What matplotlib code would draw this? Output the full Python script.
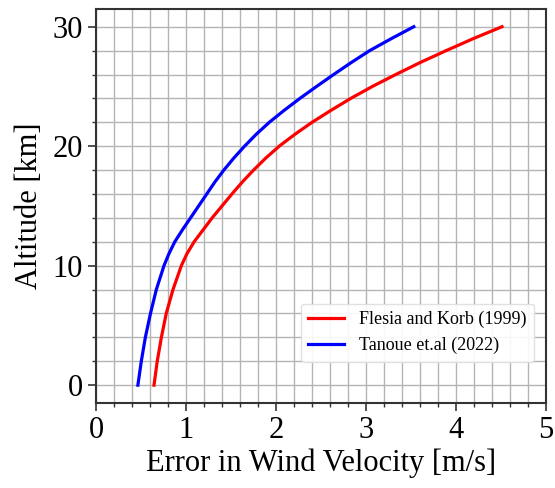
import numpy as np
import matplotlib.pyplot as plt
from matplotlib.ticker import MultipleLocator

plt.rcParams['font.family'] = ['Liberation Serif', 'DejaVu Serif']

# Altitude [km]
altitude = [0, 2, 4, 6, 8, 10, 11, 12, 13, 14, 15, 16, 17, 18, 19, 20, 21, 22,
            23, 24, 25, 26, 27, 28, 29, 30]

# Error in wind velocity [m/s]
flesia = [0.644, 0.68, 0.726, 0.78, 0.855, 0.948, 1.01, 1.09, 1.19, 1.29, 1.40,
          1.51, 1.625, 1.75, 1.885, 2.035, 2.21, 2.40, 2.61, 2.83, 3.07, 3.33, 3.60,
          3.89, 4.19, 4.51]
tanoue = [0.465, 0.503, 0.548, 0.605, 0.67, 0.755, 0.81, 0.875, 0.96, 1.05, 1.14,
          1.23, 1.32, 1.42, 1.53, 1.65, 1.78, 1.925, 2.09, 2.265, 2.45, 2.64, 2.835,
          3.04, 3.28, 3.53]

fig = plt.figure(figsize=(5.55, 4.88), dpi=100)
ax = fig.add_axes([0.173, 0.174, 0.811, 0.808])

ax.plot(flesia, altitude, color='red', lw=2.3, label='Flesia and Korb (1999)')
ax.plot(tanoue, altitude, color='blue', lw=2.3, label='Tanoue et.al (2022)')

ax.set_xlim(0, 5)
ax.set_ylim(-1.5, 31.5)
ax.xaxis.set_major_locator(MultipleLocator(1))
ax.xaxis.set_minor_locator(MultipleLocator(0.2))
ax.yaxis.set_major_locator(MultipleLocator(10))
ax.yaxis.set_minor_locator(MultipleLocator(2))
ax.grid(True, which='both', color='#b4b4b4', lw=1)
ax.set_axisbelow(True)

for s in ax.spines.values():
    s.set_color('#333333')
    s.set_linewidth(1.5)
ax.tick_params(which='major', length=6, width=1.2, color='#333333', labelsize=22)
ax.tick_params(which='minor', length=3, width=1, color='#333333')

ax.set_xlabel('Error in Wind Velocity [m/s]', fontsize=22, labelpad=2)
ax.set_ylabel('Altitude [km]', fontsize=22, labelpad=6)

ax.legend(loc='lower right', bbox_to_anchor=(0.972, 0.105), fontsize=13,
          framealpha=0.9, edgecolor='#dddddd', borderaxespad=0)

fig.savefig('out.png', dpi=100)
